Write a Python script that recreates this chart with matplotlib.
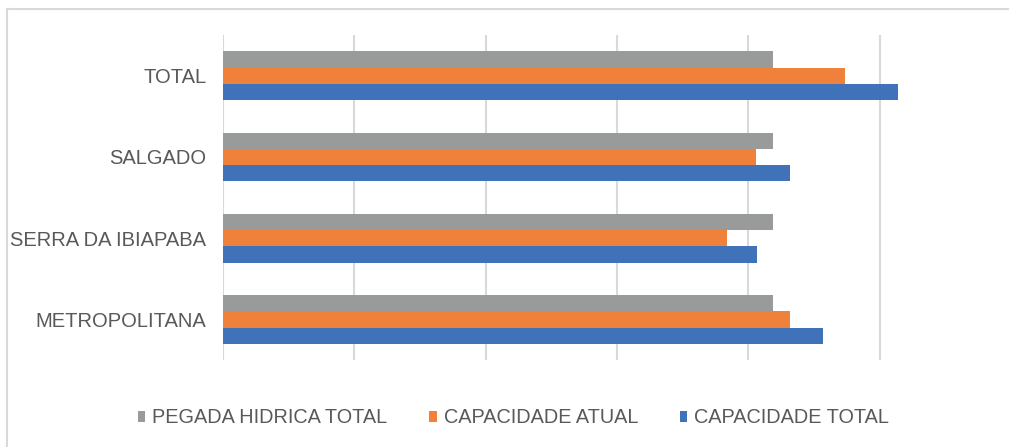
import matplotlib
matplotlib.use('Agg')
import matplotlib.pyplot as plt
from matplotlib.lines import Line2D
import numpy as np

plt.rcParams['font.family'] = ['Liberation Sans', 'DejaVu Sans']

# dados (de baixo para cima)
categorias = ['METROPOLITANA', 'SERRA DA IBIAPABA', 'SALGADO', 'TOTAL']
pegada_hidrica = [4.19, 4.19, 4.19, 4.19]
capacidade_atual = [4.32, 3.84, 4.06, 4.74]
capacidade_total = [4.57, 4.07, 4.32, 5.14]
series = ['PEGADA HIDRICA TOTAL', 'CAPACIDADE ATUAL', 'CAPACIDADE TOTAL']
cores = ['#999b9b', '#f0813b', '#3f72b8']
texto = '#595959'

fig = plt.figure(figsize=(10.09, 4.47), dpi=100)
ax = fig.add_axes([223 / 1009, 87 / 447, 780 / 1009, 325 / 447])

y = np.arange(len(categorias))
h = 0.2
ax.barh(y + h, pegada_hidrica, height=h, color=cores[0], label=series[0], zorder=3)
ax.barh(y, capacidade_atual, height=h, color=cores[1], label=series[1], zorder=3)
ax.barh(y - h, capacidade_total, height=h, color=cores[2], label=series[2], zorder=3)

ax.set_xlim(0, 5.94)
ax.set_ylim(-0.5, 3.5)
ax.set_xticks(range(6))
ax.set_xticklabels([])
ax.set_yticks(y)
ax.set_yticklabels(categorias, fontsize=14.5, color=texto)
ax.tick_params(axis='both', length=0)
ax.tick_params(axis='y', pad=12)
ax.grid(axis='x', color='#d9d9d9', linewidth=1.5, zorder=0)
for s in ax.spines.values():
    s.set_visible(False)

# moldura do gráfico
fig.add_artist(Line2D([7 / 1009, 7 / 1009], [0, 1 - 9 / 447], color='#d9d9d9', linewidth=1.5))
fig.add_artist(Line2D([7 / 1009, 1], [1 - 9 / 447, 1 - 9 / 447], color='#d9d9d9', linewidth=1.5))

handles, labels = ax.get_legend_handles_labels()
fig.legend(handles, labels, loc='center', bbox_to_anchor=(0.509, 0.065), ncol=3,
           frameon=False, fontsize=14.3, labelcolor=texto, handlelength=0.38,
           handleheight=0.45, handletextpad=0.35, columnspacing=2.1)

fig.savefig('out.png', dpi=100)
